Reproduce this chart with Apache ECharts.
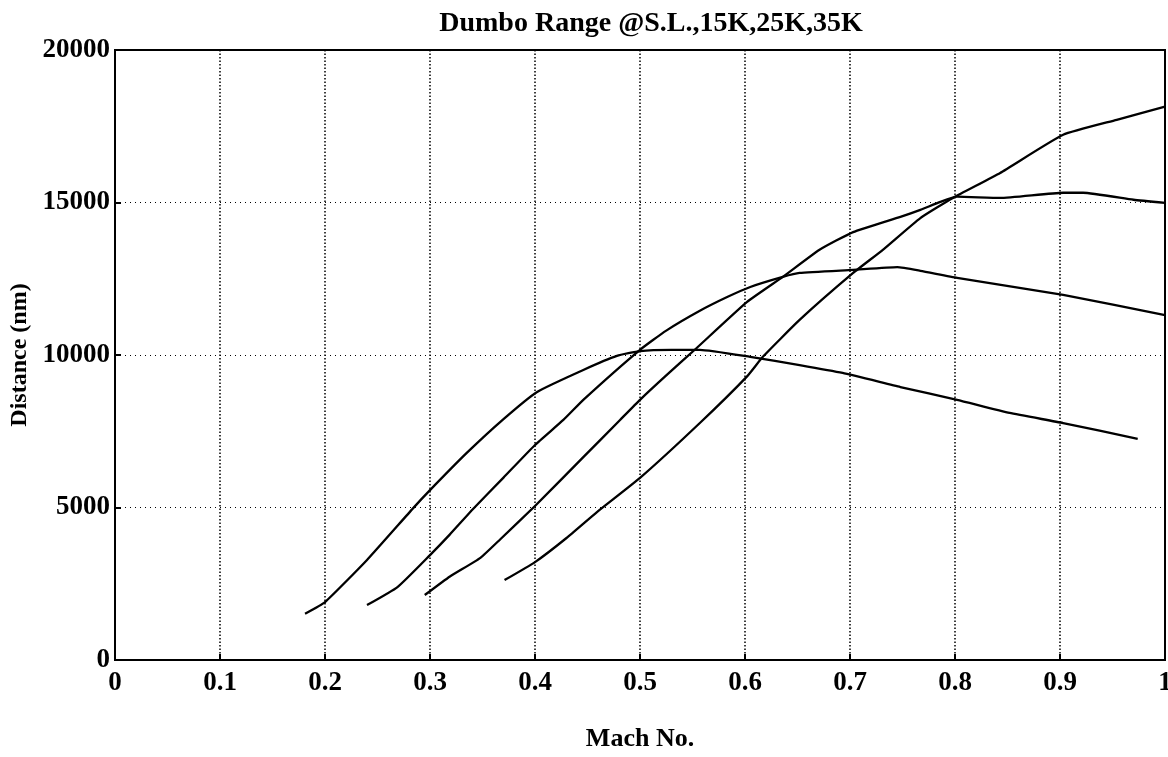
<!DOCTYPE html>
<html>
<head>
<meta charset="utf-8">
<title>Dumbo Range</title>
<script src="https://cdn.jsdelivr.net/npm/echarts@6/dist/echarts.min.js"></script>
<style>
  html, body { margin: 0; padding: 0; background: #fff; }
  #chart { width: 1168px; height: 757px; }
</style>
</head>
<body>
<div id="chart"></div>
<script>
// Range vs. Mach number at four cruise altitudes
const seaLevelMach = [0.181, 0.2, 0.24, 0.284, 0.3, 0.335, 0.37, 0.402, 0.446, 0.478, 0.5, 0.53, 0.557, 0.605, 0.652, 0.693, 0.748, 0.802, 0.852, 0.903, 0.974];
const seaLevelDist = [1520, 1900, 3280, 4980, 5570, 6790, 7900, 8790, 9510, 9970, 10130, 10170, 10170, 9940, 9670, 9410, 8950, 8530, 8100, 7770, 7250];

const alt15kMach = [0.24, 0.269, 0.3, 0.319, 0.341, 0.37, 0.4, 0.427, 0.446, 0.5, 0.525, 0.557, 0.583, 0.605, 0.636, 0.652, 0.703, 0.745, 0.767, 0.802, 0.903, 1.0];
const alt15kDist = [1800, 2390, 3440, 4120, 4950, 5980, 7050, 7870, 8530, 10170, 10800, 11450, 11900, 12230, 12560, 12690, 12790, 12880, 12760, 12530, 11970, 11310];

const alt25kMach = [0.295, 0.319, 0.348, 0.367, 0.4, 0.446, 0.481, 0.5, 0.525, 0.554, 0.602, 0.636, 0.671, 0.703, 0.748, 0.767, 0.786, 0.802, 0.843, 0.903, 0.922, 0.97, 1.0];
const alt25kDist = [2130, 2740, 3350, 3960, 5050, 6650, 7870, 8530, 9330, 10230, 11740, 12560, 13450, 14030, 14530, 14760, 15020, 15190, 15150, 15320, 15320, 15090, 14990];

const alt35kMach = [0.371, 0.4, 0.43, 0.459, 0.5, 0.557, 0.602, 0.617, 0.652, 0.703, 0.731, 0.767, 0.798, 0.843, 0.903, 0.954, 1.0];
const alt35kDist = [2620, 3210, 4000, 4850, 5970, 7770, 9300, 9940, 11150, 12690, 13440, 14490, 15150, 15970, 17220, 17710, 18140];

const curves = [
  { name: 'S.L.', mach: seaLevelMach, dist: seaLevelDist },
  { name: '15K', mach: alt15kMach, dist: alt15kDist },
  { name: '25K', mach: alt25kMach, dist: alt25kDist },
  { name: '35K', mach: alt35kMach, dist: alt35kDist }
];

const serif = '"Liberation Serif", "DejaVu Serif", serif';

const chart = echarts.init(document.getElementById('chart'), null, { renderer: 'canvas' });

chart.setOption({
  animation: false,
  backgroundColor: '#fff',
  title: {
    text: 'Dumbo Range @S.L.,15K,25K,35K',
    left: 646,
    top: 5,
    textAlign: 'center',
    textStyle: { fontFamily: serif, fontWeight: 'bold', fontSize: 28, color: '#000' }
  },
  grid: {
    left: 115, right: 3, top: 50, bottom: 97,
    outerBoundsMode: 'none',
    containLabel: false,
    show: true, borderColor: '#000', borderWidth: 2, backgroundColor: '#fff'
  },
  xAxis: {
    type: 'value',
    min: 0, max: 1, interval: 0.1,
    name: 'Mach No.',
    nameLocation: 'middle',
    nameGap: 66,
    nameTextStyle: { fontFamily: serif, fontWeight: 'bold', fontSize: 26, color: '#000', verticalAlign: 'top' },
    axisLine: { show: true, lineStyle: { color: '#000', width: 2 } },
    axisTick: { show: true, inside: true, length: 6, lineStyle: { color: '#000', width: 2 } },
    axisLabel: { margin: 10, fontFamily: serif, fontWeight: 'bold', fontSize: 27, color: '#000' },
    splitLine: { show: true, lineStyle: { color: '#000', width: 1.5, type: [1.5, 2] } }
  },
  yAxis: {
    type: 'value',
    min: 0, max: 20000, interval: 5000,
    name: 'Distance (nm)',
    nameLocation: 'middle',
    nameGap: 76,
    nameRotate: 90,
    nameTextStyle: { fontFamily: serif, fontWeight: 'bold', fontSize: 24, color: '#000' },
    axisLine: { show: true, lineStyle: { color: '#000', width: 2 } },
    axisTick: { show: true, inside: true, length: 6, lineStyle: { color: '#000', width: 2 } },
    axisLabel: {
      margin: 5, fontFamily: serif, fontWeight: 'bold', fontSize: 27, color: '#000',
      formatter: v => String(v)
    },
    splitLine: { show: true, lineStyle: { color: '#000', width: 1.2, type: [1, 4] } }
  },
  series: curves.map(c => ({
    name: c.name,
    type: 'line',
    data: c.mach.map((m, i) => [m, c.dist[i]]),
    showSymbol: false,
    smooth: 0.15,
    lineStyle: { color: '#000', width: 2.3, join: 'round' },
    z: 3
  }))
});
</script>
</body>
</html>
